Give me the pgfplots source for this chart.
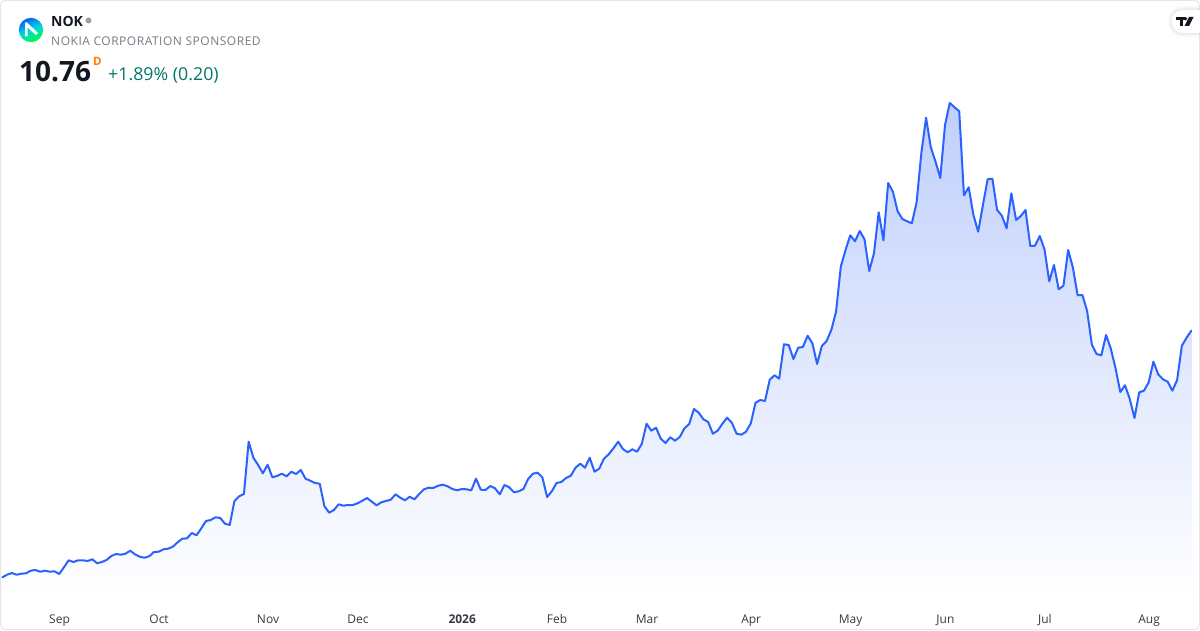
\documentclass[border=0pt]{standalone}
\usepackage{pgfplots}
\pgfplotsset{compat=1.18}
\usepackage{pgfplotstable}
\usepackage{fontspec}
\setmainfont{Open Sans}
\definecolor{tvblue}{HTML}{2962FF}
\definecolor{tvtop}{HTML}{C0CFFC}
\definecolor{tvbot}{HTML}{FFFFFF}
\definecolor{tvtext}{HTML}{131722}
\definecolor{tvgray}{HTML}{787B86}
\definecolor{tvgreen}{HTML}{00796B}
\definecolor{tvframe}{HTML}{E6E6E9}
% level = height above the bottom of the picture, one row per trading day
\pgfplotstableread{
i level
0 52.7
1 55.3
2 57
3 55.3
4 56.3
5 56.7
6 59.3
7 60
8 58.3
9 59.3
10 58.3
11 58.7
12 56
13 62.7
14 69.7
15 68
16 69.7
17 69.7
18 69
19 70.7
20 66.7
21 68
22 70
23 74
24 76
25 75.3
26 76.3
27 79.3
28 75.7
29 73.3
30 72.3
31 73.7
32 78
33 78.3
34 80.7
35 81.3
36 83.3
37 87.7
38 91.3
39 91.7
40 97
41 94.7
42 101.7
43 109
44 110
45 112.7
46 112
47 106.3
48 105
49 129
50 133.7
51 136
52 188.3
53 172.3
54 165
55 156.7
56 165.3
57 152.7
58 154
59 156.3
60 153.7
61 158.3
62 156
63 160
64 151.3
65 149.3
66 147
67 146.3
68 123.7
69 117.3
70 120
71 125.7
72 124.3
73 125
74 125
75 126.7
76 129.3
77 132
78 128.3
79 124.7
80 127.7
81 129
82 130.3
83 135.7
84 132.3
85 129.7
86 133.3
87 130.7
88 136
89 140.7
90 142.3
91 142
92 144.3
93 145.3
94 143.7
95 141
96 139.7
97 141
98 140.7
99 139.7
100 151.3
101 140.3
102 140
103 144
104 141.7
105 135.7
106 145
107 142.7
108 137.7
109 138.7
110 141
111 151
112 156.3
113 157.3
114 152.7
115 133
116 138.7
117 147
118 148
119 152
120 154.3
121 162.3
122 166.3
123 162.3
124 172.3
125 158.3
126 161.3
127 171.3
128 175.7
129 181.7
130 188.3
131 181
132 177.7
133 180.7
134 178.3
135 186.3
136 206.3
137 199.3
138 202.3
139 191.3
140 187
141 192.7
142 189.3
143 193
144 201.7
145 206
146 221
147 217.3
148 210.7
149 208
150 196.3
151 199.3
152 206.3
153 212.3
154 207.3
155 196.3
156 195.3
157 198.3
158 206.7
159 227.3
160 230
161 229
162 250.3
163 254.7
164 251.3
165 285.7
166 285
167 271
168 282.3
169 283
170 294.3
171 286.7
172 266
173 284
174 289
175 300
176 318.3
177 363.3
178 380
179 394.7
180 388.7
181 399
182 390.7
183 359
184 376.7
185 417.7
186 389.7
187 447
188 438.3
189 418.7
190 411
191 408.7
192 406.7
193 427.7
194 476.7
195 512.3
196 482.7
197 468.3
198 452
199 505
200 527
201 522.7
202 518.7
203 434.7
204 442.7
205 415
206 398.3
207 425
208 450.7
209 451.3
210 420
211 414.3
212 401.7
213 436.7
214 410
215 414
216 420
217 384
218 384.3
219 394
220 380.7
221 348.7
222 365
223 340.7
224 344.3
225 380
226 362.3
227 334.7
228 335
229 319
230 285.3
231 276
232 274.7
233 295
234 281.3
235 261.7
236 238
237 244.7
238 231
239 212
240 237.7
241 239.3
242 247.7
243 268.3
244 255.7
245 250.7
246 248.3
247 239.3
248 250
249 284.3
250 292.3
251 299.3
}\pricedata
\begin{document}
\begin{tikzpicture}[x=1pt,y=1pt]
\useasboundingbox (0,0) rectangle (1200,630);
\fill[white] (0,0) rectangle (1200,630);
\begin{axis}[
  at={(0pt,30pt)}, anchor=south west,
  width=1200pt, height=600pt, scale only axis,
  xmin=-0.492, xmax=252.83,
  ymin=30, ymax=630,
  axis line style={draw=none},
  ytick=\empty,
  major tick length=0pt,
  xtick={12,33,56,75,97,117,136,158,179,199,220,242},
  xticklabels={Sep,Oct,Nov,Dec,\textbf{2026},Feb,Mar,Apr,May,Jun,Jul,Aug},
  xticklabel style={font=\fontsize{12}{14}\selectfont, text=tvtext!85!white, anchor=base, inner sep=0pt, yshift=-23.3pt, xshift=0.4pt},
  clip=true,
]
\addplot[draw=none, top color=tvtop, bottom color=tvbot, shading angle=0] table[x=i,y=level] {\pricedata} \closedcycle;
\addplot[tvblue, line width=2pt, line join=round, line cap=round] table[x=i,y=level] {\pricedata};
\end{axis}
% frame
\draw[tvframe, line width=1pt, rounded corners=5pt] (0.5,0.5) rectangle (1199.5,629.5);
% logo
\begin{scope}
\clip (31,600) circle (12.2);
\shade[left color=blue!65!cyan, right color=green!80!cyan, middle color=cyan!70!teal, shading angle=25] (18,587) rectangle (44,613);
\fill[white] (25,593.5) -- (25,607.5) -- (27,607.5) -- (38,597) -- (36,595) -- (27.5,602.5) -- (27.5,593.5) -- cycle;
\end{scope}
% header
\node[anchor=base west, inner sep=0pt, text=tvtext] at (51,603.5) {\fontsize{14}{16}\selectfont\bfseries NOK};
\fill[gray!75] (88.5,609.5) circle (3);
\node[anchor=base west, inner sep=0pt, text=tvgray] at (51,584.7) {\fontsize{12}{14}\selectfont\addfontfeature{LetterSpace=4.3}NOKIA CORPORATION SPONSORED};
\node[anchor=base west, inner sep=0pt, text=tvtext] at (19,548) {\fontsize{28}{32}\selectfont\bfseries 10.76};
\node[anchor=base west, inner sep=0pt, text=orange] at (93,564) {\fontsize{11.5}{13}\selectfont\bfseries D};
\node[anchor=base west, inner sep=0pt, text=tvgreen] at (108,549) {\fontsize{17.8}{20}\selectfont +1.89\% (0.20)};
% TradingView badge
\foreach \o/\w in {0.012/9,0.015/7,0.02/5,0.02/3,0.025/1.5}{
  \draw[black, opacity=\o, line width=\w pt, rounded corners=11pt] (1172,597) -- (1210,597) -- (1210,620) -- (1172,620) -- cycle;
}
\fill[white, rounded corners=11pt] (1171.5,597) rectangle (1212,620);
\fill[tvtext] (1176,613) rectangle (1184.5,609.5);
\fill[tvtext] (1179.5,613) rectangle (1183,604);
\fill[tvtext] (1185.6,611.2) circle (1.7);
\fill[tvtext] (1189,613) -- (1193.5,613) -- (1189,604) -- (1184.5,604) -- cycle;
\end{tikzpicture}
\end{document}
